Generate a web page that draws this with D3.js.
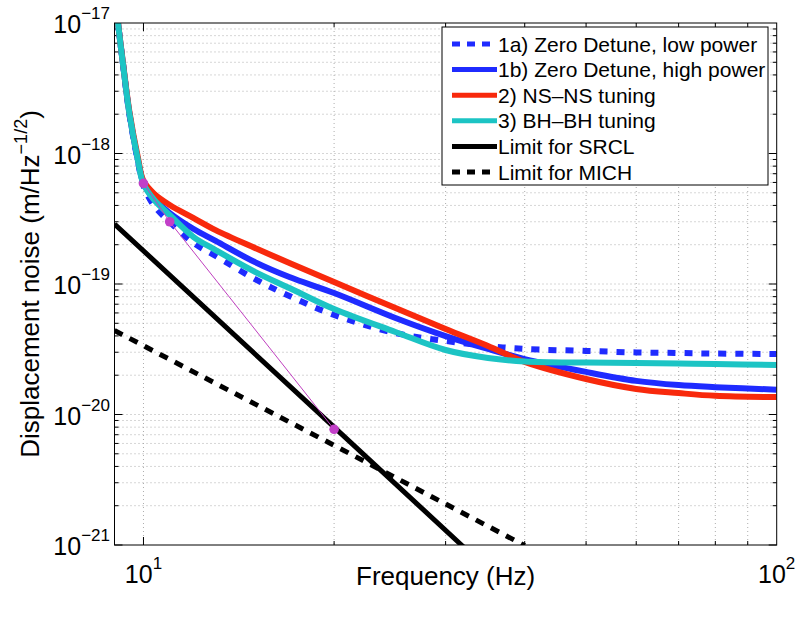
<!DOCTYPE html>
<html>
<head>
<meta charset="utf-8">
<script src="https://cdn.jsdelivr.net/npm/d3@7"></script>
<style>
  body { margin: 0; background: #fff; }
  svg { font-family: "Liberation Sans", Arial, Helvetica, sans-serif; }
</style>
</head>
<body>
<div id="chart"></div>
<script>
// frequencies (Hz) shared by the four noise curves
const freqs = [9.0, 9.1, 9.3, 9.5, 9.8, 10, 10.4, 11, 12, 13, 15, 17, 20, 25, 30, 35, 40, 50, 60, 70, 80, 100];

// displacement noise (m/Hz^-1/2)
const lowPower  = [2.2e-17, 1.09e-17, 4.5e-18, 2.0e-18, 8.7e-19, 5.64e-19, 3.96e-19, 2.99e-19, 2.06e-19, 1.64e-19, 1.09e-19, 8.09e-20, 5.79e-20, 4.21e-20, 3.66e-20, 3.35e-20, 3.18e-20, 3.07e-20, 2.99e-20, 2.96e-20, 2.93e-20, 2.91e-20];
const highPower = [2.2e-17, 1.09e-17, 4.5e-18, 2.04e-18, 8.9e-19, 5.94e-19, 4.48e-19, 3.50e-19, 2.64e-19, 2.14e-19, 1.47e-19, 1.13e-19, 8.53e-20, 5.49e-20, 3.99e-20, 3.18e-20, 2.66e-20, 2.12e-20, 1.81e-20, 1.68e-20, 1.62e-20, 1.55e-20];
const nsTuning  = [2.2e-17, 1.10e-17, 4.6e-18, 2.1e-18, 9.3e-19, 6.16e-19, 4.90e-19, 4.03e-19, 3.20e-19, 2.59e-19, 1.89e-19, 1.45e-19, 1.035e-19, 6.55e-20, 4.52e-20, 3.35e-20, 2.53e-20, 1.87e-20, 1.57e-20, 1.46e-20, 1.39e-20, 1.36e-20];
const bhTuning  = [2.2e-17, 1.09e-17, 4.5e-18, 2.04e-18, 8.9e-19, 5.84e-19, 4.40e-19, 3.38e-19, 2.29e-19, 1.82e-19, 1.24e-19, 9.32e-20, 6.43e-20, 4.29e-20, 3.12e-20, 2.71e-20, 2.55e-20, 2.50e-20, 2.48e-20, 2.46e-20, 2.44e-20, 2.39e-20];

// limit lines
const srclFreq = [9, 20, 32];
const srclVals = [2.88e-19, 8.0e-21, 9.7e-22];
const michFreq = [9, 20, 40];
const michVals = [4.4e-20, 5.8e-21, 9.9e-22];

// magenta construction line with markers
const markFreq = [10, 11, 20];
const markVals = [5.9e-19, 3.0e-19, 7.7e-21];

// tick labels
const xTicks = [10, 100];
const xTickExp = ["1", "2"];
const yTicks = [1e-21, 1e-20, 1e-19, 1e-18, 1e-17];
const yTickExp = ["\u221221", "\u221220", "\u221219", "\u221218", "\u221217"];

const legendLabels = [
    "1a) Zero Detune, low power",
    "1b) Zero Detune, high power",
    "2) NS\u2013NS tuning",
    "3) BH\u2013BH tuning",
    "Limit for SRCL",
    "Limit for MICH"
];

const margin = { top: 23, right: 21.3, bottom: 74, left: 114.5 };
const width = 798 - margin.left - margin.right;
const height = 619 - margin.top - margin.bottom;

const svg = d3.select("#chart")
    .append("svg")
    .attr("width", 798)
    .attr("height", 619);

const g = svg.append("g")
    .attr("transform", "translate(" + margin.left + "," + margin.top + ")");

const xScale = d3.scaleLog().domain([9, 100]).range([0, width]);
const yScale = d3.scaleLog().domain([1e-21, 1e-17]).range([height, 0]);

// grid values (major + minor)
const xGrid = [10, 20, 30, 40, 50, 60, 70, 80, 90];
const yGrid = [];
for (let d = -21; d < -17; d++) {
    for (let k = 1; k <= 9; k++) yGrid.push(k * Math.pow(10, d));
}

// dotted grid
g.selectAll(".xgrid").data(xGrid).enter().append("line")
    .attr("x1", d => xScale(d)).attr("x2", d => xScale(d))
    .attr("y1", 0).attr("y2", height)
    .attr("stroke", "#adadad").attr("stroke-width", 1)
    .attr("stroke-dasharray", "1,3");
g.selectAll(".ygrid").data(yGrid.slice(1)).enter().append("line")
    .attr("x1", 0).attr("x2", width)
    .attr("y1", d => yScale(d)).attr("y2", d => yScale(d))
    .attr("stroke", "#adadad").attr("stroke-width", 1)
    .attr("stroke-dasharray", "1,3");

// inner ticks on all four sides
const isMajorY = d => Math.abs(Math.log10(d) - Math.round(Math.log10(d))) < 1e-6;
g.selectAll(".ytickL").data(yGrid).enter().append("line")
    .attr("x1", 0).attr("x2", d => isMajorY(d) ? 8 : 4)
    .attr("y1", d => yScale(d)).attr("y2", d => yScale(d))
    .attr("stroke", "#000");
g.selectAll(".ytickR").data(yGrid).enter().append("line")
    .attr("x1", width).attr("x2", d => width - (isMajorY(d) ? 8 : 4))
    .attr("y1", d => yScale(d)).attr("y2", d => yScale(d))
    .attr("stroke", "#000");
g.selectAll(".xtickB").data(xGrid).enter().append("line")
    .attr("x1", d => xScale(d)).attr("x2", d => xScale(d))
    .attr("y1", height).attr("y2", d => height - (d === 10 ? 8 : 4))
    .attr("stroke", "#000");
g.selectAll(".xtickT").data(xGrid).enter().append("line")
    .attr("x1", d => xScale(d)).attr("x2", d => xScale(d))
    .attr("y1", 0).attr("y2", d => (d === 10 ? 8 : 4))
    .attr("stroke", "#000");

// clip to the axes box
svg.append("defs").append("clipPath").attr("id", "plotclip")
    .append("rect").attr("width", width).attr("height", height);
const plot = g.append("g").attr("clip-path", "url(#plotclip)");

const line = d3.line()
    .x(d => xScale(d[0]))
    .y(d => yScale(d[1]))
    .curve(d3.curveCatmullRom.alpha(0.5));

const series = [
    { vals: lowPower,  color: "#1f2bff", dash: "8,9" },
    { vals: highPower, color: "#1f2bff", dash: null },
    { vals: nsTuning,  color: "#f8290c", dash: null },
    { vals: bhTuning,  color: "#1cc4c4", dash: null }
];

series.forEach(s => {
    plot.append("path")
        .attr("d", line(freqs.map((f, i) => [f, s.vals[i]])))
        .attr("fill", "none")
        .attr("stroke", s.color)
        .attr("stroke-width", 6)
        .attr("stroke-dasharray", s.dash);
});

const straight = d3.line().x(d => xScale(d[0])).y(d => yScale(d[1]));

plot.append("path")
    .attr("d", straight(srclFreq.map((f, i) => [f, srclVals[i]])))
    .attr("fill", "none").attr("stroke", "#000").attr("stroke-width", 5);
plot.append("path")
    .attr("d", straight(michFreq.map((f, i) => [f, michVals[i]])))
    .attr("fill", "none").attr("stroke", "#000").attr("stroke-width", 5)
    .attr("stroke-dasharray", "9,8");

const marks = markFreq.map((f, i) => [f, markVals[i]]);
plot.append("path")
    .attr("d", straight(marks))
    .attr("fill", "none").attr("stroke", "#bf3fbf").attr("stroke-width", 1);
plot.selectAll(".mark").data(marks).enter().append("circle")
    .attr("cx", d => xScale(d[0])).attr("cy", d => yScale(d[1]))
    .attr("r", 4.8).attr("fill", "#c23fc8");

// axes box
g.append("rect")
    .attr("width", width).attr("height", height)
    .attr("fill", "none").attr("stroke", "#000").attr("stroke-width", 1);

// tick labels
g.selectAll(".ylab").data(yTicks).enter().append("text")
    .attr("x", -4.5)
    .attr("y", d => yScale(d) + 10)
    .attr("text-anchor", "end")
    .style("font-size", "25px")
    .each(function (d, i) {
        const t = d3.select(this);
        t.append("tspan").text("10");
        t.append("tspan").attr("dy", -14).style("font-size", "17px").text(yTickExp[i]);
    });

g.selectAll(".xlab").data(xTicks).enter().append("text")
    .attr("x", d => xScale(d))
    .attr("y", height + 38)
    .attr("text-anchor", "middle")
    .style("font-size", "25px")
    .each(function (d, i) {
        const t = d3.select(this);
        t.append("tspan").text("10");
        t.append("tspan").attr("dy", -14).style("font-size", "17px").text(xTickExp[i]);
    });

// axis titles
g.append("text")
    .attr("x", width / 2)
    .attr("y", height + 40)
    .attr("text-anchor", "middle")
    .style("font-size", "26px")
    .text("Frequency (Hz)");

const ylab = g.append("text")
    .attr("transform", "translate(" + (38.5 - margin.left) + "," + (height / 2) + ") rotate(-90)")
    .attr("text-anchor", "middle")
    .style("font-size", "26px");
ylab.append("tspan").text("Displacement noise (m/Hz");
ylab.append("tspan").attr("dy", -12).style("font-size", "18px").text("\u22121/2");
ylab.append("tspan").attr("dy", 12).text(")");

// legend
const legendStyles = [
    { color: "#1f2bff", dash: "8,7" },
    { color: "#1f2bff", dash: null },
    { color: "#f8290c", dash: null },
    { color: "#1cc4c4", dash: null },
    { color: "#000", dash: null },
    { color: "#000", dash: "8,7" }
];
const legend = svg.append("g").attr("transform", "translate(442,27)");
legend.append("rect")
    .attr("width", 326).attr("height", 158)
    .attr("fill", "#fff").attr("stroke", "#000").attr("stroke-width", 1);
legendLabels.forEach((label, i) => {
    const y = 17 + i * 25.6;
    legend.append("line")
        .attr("x1", 10).attr("x2", 55).attr("y1", y).attr("y2", y)
        .attr("stroke", legendStyles[i].color).attr("stroke-width", 5)
        .attr("stroke-dasharray", legendStyles[i].dash);
    legend.append("text")
        .attr("x", 56).attr("y", y + 7.5)
        .style("font-size", "21px")
        .text(label);
});
</script>
</body>
</html>
